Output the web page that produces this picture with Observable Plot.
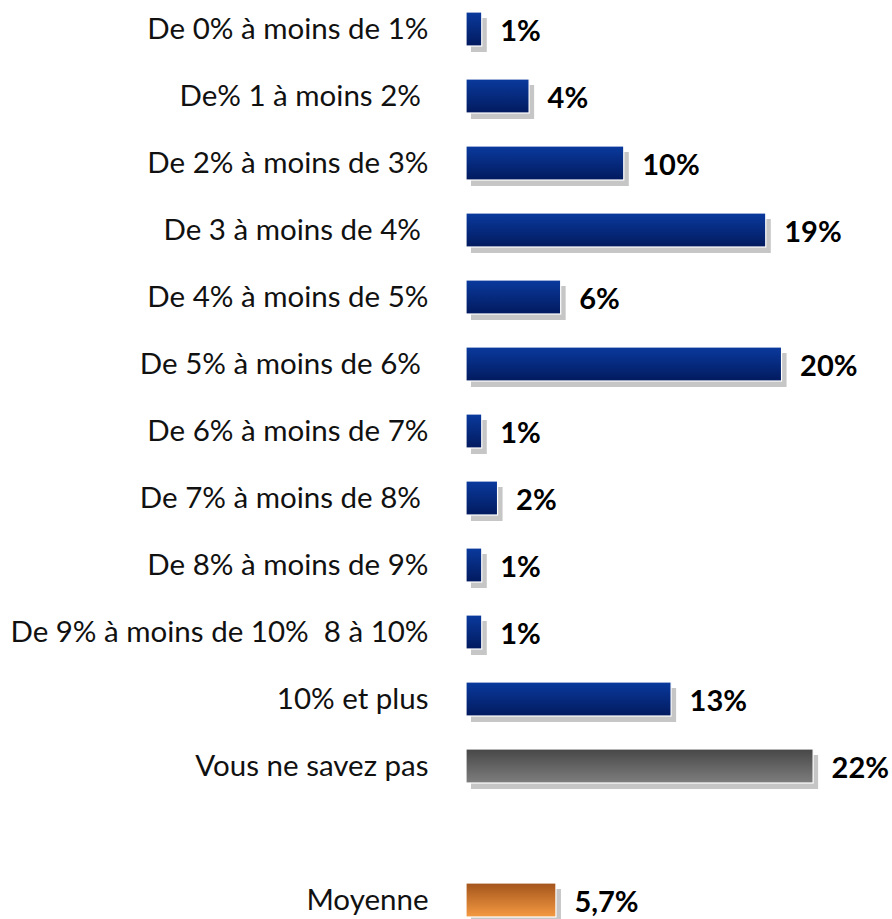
<!DOCTYPE html>
<html>
<head>
<meta charset="utf-8">
<script src="https://cdn.jsdelivr.net/npm/d3@7"></script>
<script src="https://cdn.jsdelivr.net/npm/@observablehq/plot@0.6"></script>
<style>
  html, body { margin: 0; padding: 0; background: #fff; }
  #chart svg { display: block; }
</style>
</head>
<body>
<div id="chart"></div>
<script>
const categories = [
  "De 0% à moins de 1%",
  "De% 1 à moins 2%\u00a0",
  "De 2% à moins de 3%",
  "De 3 à moins de 4%\u00a0",
  "De 4% à moins de 5%",
  "De 5% à moins de 6%\u00a0",
  "De 6% à moins de 7%",
  "De 7% à moins de 8%\u00a0",
  "De 8% à moins de 9%",
  "De 9% à moins de 10%\u00a0\u00a08 à 10%",
  "10% et plus",
  "Vous ne savez pas"
];
const values = [1, 4, 10, 19, 6, 20, 1, 2, 1, 1, 13, 22];
const valueLabels = ["1%", "4%", "10%", "19%", "6%", "20%", "1%", "2%", "1%", "1%", "13%", "22%"];
const groups = ["range","range","range","range","range","range","range","range","range","range","range","unknown"];

const meanLabel = "Moyenne";
const meanValue = 5.7;
const meanText = "5,7%";

const spacer = "\u2009";
const rows = categories.map((c, i) => ({cat: c, value: values[i], text: valueLabels[i], group: groups[i]}));
rows.push({cat: meanLabel, value: meanValue, text: meanText, group: "mean"});
const domain = [...categories, spacer, meanLabel];

const defs = () => {
  const s = d3.create("svg:defs");
  const mk = (id, top, bottom) => {
    const g = s.append("linearGradient").attr("id", id).attr("x1", 0).attr("y1", 0).attr("x2", 0).attr("y2", 1);
    g.append("stop").attr("offset", "0%").attr("stop-color", top);
    g.append("stop").attr("offset", "100%").attr("stop-color", bottom);
  };
  mk("gBlue", "#0a3a9e", "#021a5e");
  mk("gGray", "#474747", "#7e7e7e");
  mk("gOrange", "#a3541c", "#f59a42");
  return s.node();
};

const fills = {range: "url(#gBlue)", unknown: "url(#gGray)", mean: "url(#gOrange)"};
const fontLab = "Lato, 'Open Sans', sans-serif";

const barMarks = Object.keys(fills).map(g =>
  Plot.barX(rows.filter(d => d.group === g), {
    x: "value", y: "cat", fill: fills[g], stroke: "#ffffff", strokeWidth: 1.2
  })
);

const chart = Plot.plot({
  width: 892,
  height: 919,
  marginLeft: 466,
  marginRight: 0,
  marginTop: 12,
  marginBottom: 2,
  x: {domain: [0, 27], axis: null},
  y: {domain, axis: null, paddingInner: 0.5, paddingOuter: 0, align: 0.5},
  style: {fontFamily: fontLab, background: "#fff"},
  marks: [
    defs,
    Plot.barX(rows, {x: "value", y: "cat", fill: "#c6c6c6", dx: 5, dy: 6}),
    ...barMarks,
    Plot.text(rows, {
      x: 0, y: "cat", text: "cat", textAnchor: "end", dx: -38, dy: 0,
      fontSize: 29.5, fill: "#111"
    }),
    Plot.text(rows, {
      x: "value", y: "cat", text: "text", textAnchor: "start", dx: 18, dy: 2,
      fontSize: 29, fontWeight: "bold", fill: "#000"
    })
  ]
});
document.getElementById("chart").append(chart);
</script>
</body>
</html>
